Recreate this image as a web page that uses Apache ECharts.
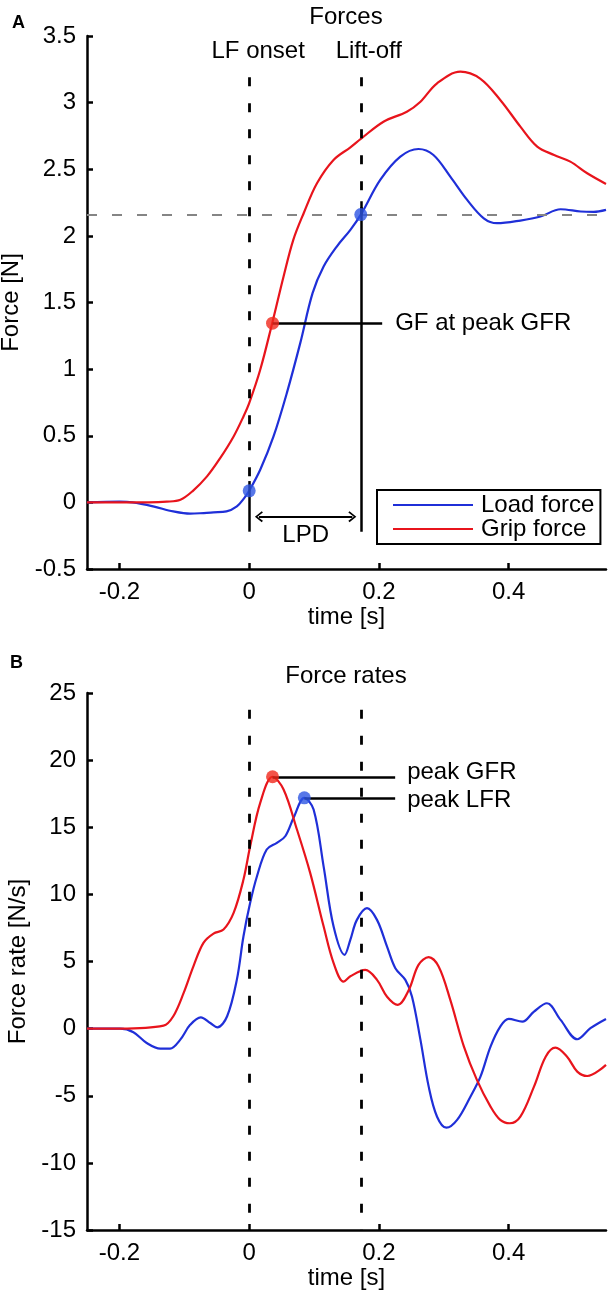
<!DOCTYPE html>
<html>
<head>
<meta charset="utf-8">
<script src="https://cdn.jsdelivr.net/npm/echarts@6/dist/echarts.min.js"></script>
<style>
  html, body { margin: 0; padding: 0; background: #fff; }
  #chart { width: 613px; height: 1300px; }
</style>
</head>
<body>
<div id="chart"></div>
<script>
// ---- data ----
// panel A: forces [N]
var loadTime  = [-0.25, -0.2, -0.18, -0.148, -0.117, -0.091, -0.07, -0.055, -0.035, -0.019, -0.008, 0, 0.017, 0.0375, 0.058, 0.0787, 0.0977, 0.1147, 0.135, 0.156, 0.1728, 0.202, 0.233, 0.261, 0.284, 0.31, 0.336, 0.3616, 0.382, 0.418, 0.449, 0.48, 0.511, 0.531, 0.55];
var loadForce = [0, 0.005, 0, -0.03, -0.068, -0.085, -0.08, -0.075, -0.068, -0.03, 0.03, 0.087, 0.245, 0.495, 0.82, 1.195, 1.57, 1.77, 1.92, 2.045, 2.165, 2.42, 2.595, 2.652, 2.607, 2.445, 2.27, 2.132, 2.095, 2.115, 2.145, 2.2, 2.183, 2.18, 2.195];
var gripTime  = [-0.25, -0.2, -0.155, -0.127, -0.106, -0.0875, -0.065, -0.045, -0.024, -0.0088, 0, 0.017, 0.0355, 0.053, 0.068, 0.084, 0.1045, 0.13, 0.156, 0.173, 0.207, 0.243, 0.264, 0.2896, 0.3256, 0.356, 0.387, 0.418, 0.444, 0.47, 0.495, 0.521, 0.55];
var gripForce = [0, 0, 0, 0.005, 0.02, 0.083, 0.195, 0.33, 0.495, 0.645, 0.745, 0.995, 1.345, 1.695, 1.97, 2.17, 2.395, 2.57, 2.665, 2.732, 2.857, 2.932, 3.007, 3.145, 3.232, 3.18, 3.02, 2.82, 2.67, 2.607, 2.557, 2.47, 2.39];

// panel B: force rates [N/s]
var loadRateTime = [-0.25, -0.199, -0.1785, -0.158, -0.137, -0.122, -0.1065, -0.091, -0.0746, -0.06, -0.049, -0.034, -0.019, -0.0088, 0.0015, 0.012, 0.027, 0.0427, 0.0556, 0.0684, 0.0849, 0.0993, 0.1147, 0.13, 0.147, 0.156, 0.166, 0.1816, 0.197, 0.2125, 0.2253, 0.2407, 0.251, 0.264, 0.2767, 0.2896, 0.304, 0.3205, 0.341, 0.3565, 0.372, 0.387, 0.4, 0.421, 0.439, 0.459, 0.48, 0.5057, 0.526, 0.55];
var loadRate     = [0, 0, -0.27, -1.07, -1.49, -1.49, -0.84, 0.28, 0.84, 0.42, 0.1, 0.92, 3.65, 6.88, 9.37, 11.35, 13.34, 13.84, 14.33, 15.7, 17.19, 16.32, 12.09, 7.62, 5.5, 6.63, 8.1, 8.97, 8.1, 6.11, 4.5, 3.63, 2.38, -0.84, -4.32, -6.56, -7.38, -6.8, -5.07, -3.58, -1.34, 0.15, 0.72, 0.52, 1.27, 1.89, 0.65, -0.79, 0.03, 0.72];
var gripRateTime = [-0.25, -0.199, -0.132, -0.117, -0.101, -0.086, -0.0705, -0.055, -0.0396, -0.024, -0.0088, 0.0015, 0.017, 0.036, 0.053, 0.0736, 0.094, 0.1147, 0.13, 0.1456, 0.156, 0.179, 0.197, 0.2125, 0.229, 0.246, 0.261, 0.2767, 0.292, 0.31, 0.331, 0.351, 0.372, 0.387, 0.4017, 0.418, 0.439, 0.457, 0.472, 0.49, 0.5057, 0.521, 0.55];
var gripRate     = [0, 0, 0.22, 0.92, 2.66, 4.64, 6.39, 7.08, 7.38, 8.62, 11.1, 13.58, 16.82, 18.76, 17.81, 14.83, 11.6, 7.62, 4.9, 3.5, 3.9, 4.37, 3.63, 2.38, 1.77, 2.88, 4.75, 5.32, 4.62, 2.14, -1.34, -3.82, -5.81, -6.8, -7.05, -6.56, -4.32, -2.09, -1.42, -2.09, -3.2, -3.53, -2.7];

// events
var lfOnset = 0, liftOff = 0.172;
var onsetLoad = 0.087, liftOffLoad = 2.16;
var peakGfrTime = 0.036, gfAtPeakGfr = 1.345, peakGfr = 18.76;
var peakLfrTime = 0.085, peakLfr = 17.19;

// axes
var timeRange = [-0.25, 0.55];
var xTicks = [-0.2, 0, 0.2, 0.4];
var forceRange = [-0.5, 3.5], forceStep = 0.5;
var rateRange = [-15, 25], rateStep = 5;

// ---- chart ----
var FONT = '"Liberation Sans", Helvetica, Arial, sans-serif';
var BLUE = '#1f2fd8', RED = '#e8141c';
var BLUE_DOT = '#2d55e2', RED_DOT = '#f0281c';

function pairs(t, v) {
    return t.map(function (x, i) { return [x, v[i]]; });
}

function xAxisOf(idx) {
    return {
        type: 'value', gridIndex: idx,
        min: timeRange[0], max: timeRange[1],
        name: 'time [s]', nameLocation: 'middle', nameGap: 36,
        nameTextStyle: { color: '#000', fontSize: 24, fontFamily: FONT },
        axisLine: { onZero: false, lineStyle: { color: '#000', width: 2.5 } },
        axisTick: { inside: true, length: 6, customValues: xTicks, lineStyle: { color: '#000', width: 2.5 } },
        axisLabel: { customValues: xTicks, margin: 11, color: '#000', fontSize: 24, fontFamily: FONT },
        splitLine: { show: false }
    };
}

function yAxisOf(idx, range, step, name) {
    return {
        type: 'value', gridIndex: idx,
        min: range[0], max: range[1], interval: step,
        name: name, nameLocation: 'middle', nameGap: 51,
        nameTextStyle: { color: '#000', fontSize: 24, fontFamily: FONT },
        axisLine: { show: true, onZero: false, lineStyle: { color: '#000', width: 2.5 } },
        axisTick: { show: true, inside: true, length: 6, lineStyle: { color: '#000', width: 2.5 } },
        axisLabel: { margin: 11, color: '#000', fontSize: 24, fontFamily: FONT },
        splitLine: { show: false }
    };
}

var solid = { color: '#000', width: 2.5, type: 'solid' };
var dashed = { color: '#000', width: 2.8, type: [9, 17] };
var chevron = 'path://M5,0 L10,6 L8.8,7 L5,2.2 L1.2,7 L0,6 Z';

var chart = echarts.init(document.getElementById('chart'));
var option = {
    animation: false,
    backgroundColor: '#fff',
    title: [
        { text: 'A', left: 12, top: 14, padding: 0, textStyle: { fontSize: 18, fontWeight: 'bold', color: '#000', fontFamily: FONT } },
        { text: 'Forces', left: 346, top: 5, padding: 0, textAlign: 'center', textStyle: { fontSize: 24, fontWeight: 'normal', color: '#000', fontFamily: FONT } },
        { text: 'B', left: 10, top: 654, padding: 0, textStyle: { fontSize: 18, fontWeight: 'bold', color: '#000', fontFamily: FONT } },
        { text: 'Force rates', left: 346, top: 664, padding: 0, textAlign: 'center', textStyle: { fontSize: 24, fontWeight: 'normal', color: '#000', fontFamily: FONT } }
    ],
    grid: [
        { left: 87, top: 36, width: 519, height: 533, containLabel: false, outerBoundsMode: 'none' },
        { left: 87, top: 693, width: 519, height: 537, containLabel: false, outerBoundsMode: 'none' }
    ],
    legend: {
        data: [
            { name: 'Load force', icon: 'rect' },
            { name: 'Grip force', icon: 'rect' }
        ],
        orient: 'vertical',
        left: 377, top: 490,
        padding: [3, 6, 3, 16],
        itemGap: 0,
        itemWidth: 80, itemHeight: 2.2,
        borderColor: '#000', borderWidth: 2, borderRadius: 0,
        backgroundColor: '#fff',
        textStyle: { color: '#000', fontSize: 24, fontFamily: FONT, padding: [0, 0, 0, 3] }
    },
    xAxis: [xAxisOf(0), xAxisOf(1)],
    yAxis: [
        yAxisOf(0, forceRange, forceStep, 'Force [N]'),
        yAxisOf(1, rateRange, rateStep, 'Force rate [N/s]')
    ],
    series: [
        {
            name: 'Load force', type: 'line', xAxisIndex: 0, yAxisIndex: 0,
            data: pairs(loadTime, loadForce),
            smooth: 0.35, symbol: 'none', z: 3,
            lineStyle: { color: BLUE, width: 2.2 }, itemStyle: { color: BLUE },
            markLine: {
                silent: true, symbol: ['none', 'none'], animation: false,
                label: { show: false },
                data: [
                    [{ coord: [timeRange[0], liftOffLoad], lineStyle: { color: '#858585', width: 2.2, type: [10, 15] } },
                     { coord: [timeRange[1], liftOffLoad] }],
                    [{ coord: [lfOnset, 3.19], lineStyle: dashed,
                       label: { show: true, position: 'start', formatter: 'LF onset', distance: 14, offset: [9, 0], color: '#000', fontSize: 24, fontFamily: FONT } },
                     { coord: [lfOnset, onsetLoad] }],
                    [{ coord: [lfOnset, 0.16], lineStyle: solid }, { coord: [lfOnset, -0.22] }],
                    [{ coord: [liftOff, 3.19], lineStyle: dashed,
                       label: { show: true, position: 'start', formatter: 'Lift-off', distance: 14, offset: [8, 0], color: '#000', fontSize: 24, fontFamily: FONT } },
                     { coord: [liftOff, liftOffLoad] }],
                    [{ coord: [liftOff, 2.26], lineStyle: solid }, { coord: [liftOff, -0.22] }],
                    [{ coord: [0.015, -0.107], symbol: chevron, symbolSize: [11, 8], lineStyle: { color: '#000', width: 2, type: 'solid' },
                       label: { show: true, position: 'insideMiddleBottom', formatter: 'LPD', distance: 7, color: '#000', fontSize: 24, fontFamily: FONT } },
                     { coord: [0.159, -0.107], symbol: chevron, symbolSize: [11, 8] }]
                ]
            }
        },
        {
            name: 'Grip force', type: 'line', xAxisIndex: 0, yAxisIndex: 0,
            data: pairs(gripTime, gripForce),
            smooth: 0.35, symbol: 'none', z: 3,
            lineStyle: { color: RED, width: 2.2 }, itemStyle: { color: RED },
            markLine: {
                silent: true, symbol: ['none', 'none'], animation: false,
                label: { show: false },
                data: [
                    [{ coord: [peakGfrTime, gfAtPeakGfr], lineStyle: solid,
                       label: { show: true, position: 'end', formatter: 'GF at peak GFR', distance: 13, color: '#000', fontSize: 24, fontFamily: FONT } },
                     { coord: [0.205, gfAtPeakGfr] }]
                ]
            }
        },
        {
            name: 'events A load', type: 'scatter', xAxisIndex: 0, yAxisIndex: 0,
            data: [[lfOnset, onsetLoad], [liftOff, liftOffLoad]],
            symbolSize: 13, z: 5, itemStyle: { color: BLUE_DOT }
        },
        {
            name: 'events A grip', type: 'scatter', xAxisIndex: 0, yAxisIndex: 0,
            data: [[peakGfrTime, gfAtPeakGfr]],
            symbolSize: 13, z: 5, itemStyle: { color: RED_DOT }
        },
        {
            name: 'Load force rate', type: 'line', xAxisIndex: 1, yAxisIndex: 1,
            data: pairs(loadRateTime, loadRate),
            smooth: 0.35, symbol: 'none', z: 3,
            lineStyle: { color: BLUE, width: 2.2 }, itemStyle: { color: BLUE },
            markLine: {
                silent: true, symbol: ['none', 'none'], animation: false,
                label: { show: false },
                data: [
                    [{ coord: [lfOnset, 23.75], lineStyle: dashed }, { coord: [lfOnset, rateRange[0]] }],
                    [{ coord: [liftOff, 23.75], lineStyle: dashed }, { coord: [liftOff, rateRange[0]] }],
                    [{ coord: [peakLfrTime, peakLfr], lineStyle: solid,
                       label: { show: true, position: 'end', formatter: 'peak LFR', distance: 12, offset: [0, 3], color: '#000', fontSize: 24, fontFamily: FONT } },
                     { coord: [0.225, peakLfr] }]
                ]
            }
        },
        {
            name: 'Grip force rate', type: 'line', xAxisIndex: 1, yAxisIndex: 1,
            data: pairs(gripRateTime, gripRate),
            smooth: 0.35, symbol: 'none', z: 3,
            lineStyle: { color: RED, width: 2.2 }, itemStyle: { color: RED },
            markLine: {
                silent: true, symbol: ['none', 'none'], animation: false,
                label: { show: false },
                data: [
                    [{ coord: [peakGfrTime, peakGfr], lineStyle: solid,
                       label: { show: true, position: 'end', formatter: 'peak GFR', distance: 12, offset: [0, -4], color: '#000', fontSize: 24, fontFamily: FONT } },
                     { coord: [0.225, peakGfr] }]
                ]
            }
        },
        {
            name: 'events B', type: 'scatter', xAxisIndex: 1, yAxisIndex: 1,
            data: [
                { value: [peakGfrTime, peakGfr], itemStyle: { color: RED_DOT } },
                { value: [peakLfrTime, peakLfr], itemStyle: { color: BLUE_DOT } }
            ],
            symbolSize: 13, z: 5
        }
    ]
};
chart.setOption(option);
</script>
</body>
</html>
